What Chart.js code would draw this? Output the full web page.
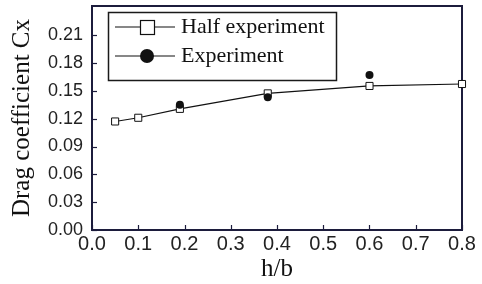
<!DOCTYPE html>
<html><head><meta charset="utf-8">
<script src="https://cdn.jsdelivr.net/npm/chart.js@4/dist/chart.umd.min.js"></script>
<style>html,body{margin:0;padding:0;background:#fff}canvas{display:block}</style>
</head><body>
<canvas id="c" width="482" height="284"></canvas>
<script>
const halfX = [0.05, 0.1, 0.19, 0.38, 0.6, 0.8];
const halfY = [0.117, 0.121, 0.1306, 0.1473, 0.1553, 0.1574];
const expX = [0.19, 0.38, 0.6];
const expY = [0.135, 0.143, 0.167];
const seriesNames = ['Half experiment', 'Experiment'];
const xTicks = [0, 0.1, 0.2, 0.3, 0.4, 0.5, 0.6, 0.7, 0.8];
const yTicks = [0, 0.03, 0.06, 0.09, 0.12, 0.15, 0.18, 0.21];

const axisColor = '#1c1c3c';
const tickFont = "'Liberation Sans', Arial, sans-serif";
const serif = "'Liberation Serif', 'Times New Roman', serif";

const framePlugin = {
  id: 'framebox',
  afterDraw(chart) {
    const ctx = chart.ctx;
    const a = chart.chartArea;
    const x = chart.scales.x, y = chart.scales.y;
    ctx.save();
    ctx.strokeStyle = axisColor;
    ctx.lineWidth = 2;
    ctx.beginPath();
    ctx.moveTo(a.left, a.top); ctx.lineTo(a.left, a.bottom); ctx.lineTo(a.right, a.bottom);
    ctx.stroke();
    ctx.lineWidth = 1.2;
    for (const v of xTicks) {
      const px = Math.round(x.getPixelForValue(v)) + 0.5;
      ctx.beginPath(); ctx.moveTo(px, a.bottom); ctx.lineTo(px, a.bottom - 5); ctx.stroke();
    }
    for (const v of yTicks) {
      const py = Math.round(y.getPixelForValue(v)) + 0.5;
      ctx.beginPath(); ctx.moveTo(a.left, py); ctx.lineTo(a.left + 5, py); ctx.stroke();
    }
    // legend
    const bx = 108, by = 12, bw = 228, bh = 68;
    ctx.fillStyle = '#fff';
    ctx.fillRect(bx, by, bw, bh);
    ctx.strokeStyle = '#1a1a1a';
    ctx.lineWidth = 1.5;
    ctx.strokeRect(bx + 0.5, by + 0.5, bw, bh);
    const rows = [27, 56];
    ctx.lineWidth = 1.2;
    ctx.strokeStyle = '#111';
    rows.forEach((ry, i) => {
      ctx.beginPath(); ctx.moveTo(115, ry); ctx.lineTo(175, ry); ctx.stroke();
      if (i === 0) {
        ctx.fillStyle = '#fff';
        ctx.fillRect(140, ry - 7, 14, 14);
        ctx.strokeRect(140.5, ry - 6.5, 14, 14);
      } else {
        ctx.fillStyle = '#111';
        ctx.beginPath(); ctx.arc(147, ry, 7, 0, Math.PI * 2); ctx.fill();
      }
      ctx.fillStyle = '#111';
      ctx.font = '22px ' + serif;
      ctx.textBaseline = 'middle';
      ctx.textAlign = 'left';
      ctx.fillText(seriesNames[i], 181, ry);
    });
    ctx.restore();
  }
};

const noPad = s => { s.paddingTop = 0; s.paddingBottom = 0; s.paddingLeft = 0; s.paddingRight = 0; };

new Chart(document.getElementById('c'), {
  type: 'scatter',
  data: {
    datasets: [
      {
        label: seriesNames[1],
        data: expX.map((v, i) => ({x: v, y: expY[i]})),
        showLine: false,
        pointStyle: 'circle',
        pointRadius: 4,
        backgroundColor: '#111',
        borderColor: '#111',
        borderWidth: 0
      },
      {
        label: seriesNames[0],
        data: halfX.map((v, i) => ({x: v, y: halfY[i]})),
        showLine: true,
        borderColor: '#111',
        borderWidth: 1.2,
        pointStyle: 'rect',
        pointRadius: 5,
        pointBackgroundColor: '#fff',
        pointBorderColor: '#111',
        pointBorderWidth: 1,
        tension: 0
      }
    ]
  },
  options: {
    responsive: false,
    animation: false,
    clip: false,
    layout: {padding: {left: 0, right: 20, top: 5, bottom: 0}},
    plugins: {legend: {display: false}, tooltip: {enabled: false}},
    scales: {
      x: {
        type: 'linear', min: 0, max: 0.8, position: 'bottom',
        afterFit: s => { s.height = 54; noPad(s); },
        afterBuildTicks: s => { s.ticks = xTicks.map(v => ({value: v})); },
        grid: {display: false, drawTicks: false},
        border: {display: true, color: axisColor, width: 2},
        ticks: {
          color: '#222', padding: 2,
          font: {family: tickFont, size: 20},
          callback: v => v.toFixed(1),
          maxRotation: 0, autoSkip: false
        },
        title: {display: true, text: 'h/b', color: '#111', font: {family: serif, size: 25, lineHeight: 1}, padding: {top: 0, bottom: 2}}
      },
      x2: {
        type: 'linear', min: 0, max: 0.8, position: 'top',
        afterFit: s => { s.height = 0; noPad(s); },
        grid: {display: false, drawTicks: false},
        border: {display: true, color: axisColor, width: 2},
        ticks: {display: false}
      },
      y: {
        type: 'linear', min: 0, max: 0.2415, position: 'left',
        afterFit: s => { s.width = 92; noPad(s); },
        afterBuildTicks: s => { s.ticks = yTicks.map(v => ({value: v})); },
        grid: {display: false, drawTicks: false},
        border: {display: true, color: axisColor, width: 2},
        ticks: {
          color: '#222', padding: 9,
          font: {family: tickFont, size: 18},
          callback: v => v.toFixed(2),
          autoSkip: false
        },
        title: {display: true, text: 'Drag coefficient Cx', color: '#111', font: {family: serif, size: 25, lineHeight: 1}, padding: {top: 10, bottom: 0}}
      },
      y2: {
        type: 'linear', min: 0, max: 0.2415, position: 'right',
        afterFit: s => { s.width = 0; noPad(s); },
        grid: {display: false, drawTicks: false},
        border: {display: true, color: axisColor, width: 2},
        ticks: {display: false}
      }
    }
  },
  plugins: [framePlugin]
});
</script>
</body></html>
